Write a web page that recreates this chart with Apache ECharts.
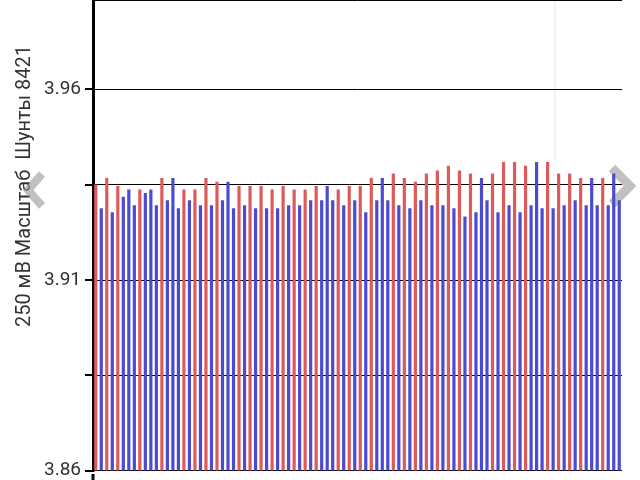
<!DOCTYPE html>
<html><head><meta charset="utf-8">
<script src="https://cdn.jsdelivr.net/npm/echarts@6/dist/echarts.min.js"></script>
<style>html,body{margin:0;padding:0;background:#fff}#c{width:640px;height:480px}</style>
</head><body><div id="c"></div>
<script>
const values = [3.935,3.9288,3.9367,3.9277,3.9346,3.9318,3.9337,3.9296,3.9337,3.9328,3.9337,3.9296,3.9367,3.9309,3.9367,3.9288,
3.9337,3.9309,3.9337,3.9296,3.9367,3.9296,3.9357,3.9309,3.9357,3.9288,3.9346,3.9296,3.9346,3.9288,3.9346,3.9288,
3.9337,3.9288,3.9346,3.9296,3.9337,3.9296,3.9337,3.9309,3.9346,3.9309,3.9346,3.9309,3.9337,3.9296,3.9346,3.9309,
3.9346,3.9277,3.9367,3.9309,3.9367,3.9309,3.9379,3.9296,3.9367,3.9288,3.9357,3.9309,3.9379,3.9296,3.9387,3.9296,
3.9399,3.9288,3.9387,3.9266,3.9379,3.9277,3.9367,3.9309,3.9379,3.9277,3.9409,3.9296,3.9409,3.9277,3.9399,3.9296,
3.9409,3.9288,3.9409,3.9288,3.9379,3.9296,3.9379,3.9309,3.9367,3.9296,3.9367,3.9296,3.9367,3.9296,3.9379,3.9309];
const colorsCode = "RBRBRBBBRBBBRBBBRBRBRBRBBBRBRBRBRBRBRBRBRBBBRBRBRBRBBBRBRBRBRBRBRBRBRBBBRBRBRBRBBBRBRBRBRBBBRB";
const categories = values.map((v,i)=>String(i+1));
const yLabels = ['3.86','3.91','3.96'];
const RED='#dd5a5a', BLUE='#4b4bd2';
const chart = echarts.init(document.getElementById('c'));
chart.setOption({
  animation:false,
  grid:{left:93,right:18,top:0,bottom:6},
  xAxis:{type:'category',data:categories,axisLine:{show:false},axisTick:{show:false},axisLabel:{show:false}},
  yAxis:{type:'value',min:3.86,max:3.9834,interval:0.025,
    axisLine:{show:true,lineStyle:{color:'#000',width:3}},
    axisTick:{show:true,length:8,lineStyle:{color:'#000',width:2}},
    axisLabel:{fontSize:19,color:'#333',fontFamily:'Roboto',margin:12,showMaxLabel:false,
      formatter:v=>{const s=v.toFixed(2);return yLabels.includes(s)&&Math.abs(v-parseFloat(s))<1e-6?s:'';}},
    splitLine:{lineStyle:{color:'#000',width:1}}},
  series:[{type:'bar',barCategoryGap:'42%',
    data:values.map((v,i)=>({value:v,itemStyle:{color:colorsCode[i]==='R'?RED:BLUE}}))}],
  graphic:[
    {type:'line',shape:{x1:555,y1:0,x2:555,y2:160},style:{stroke:'#e4e4e4',lineWidth:1},z:-1},
    {type:'line',shape:{x1:93,y1:474,x2:93,y2:480},style:{stroke:'#000',lineWidth:3}},
    {type:'text',x:25,y:186,rotation:Math.PI/2,style:{text:'250 мВ Масштаб  Шунты 8421',fontSize:20,fill:'#333',fontFamily:'Roboto',align:'center',verticalAlign:'middle'}},
    {type:'polyline',shape:{points:[[612,168],[630,186],[612,204]]},style:{stroke:'rgba(150,150,150,0.6)',lineWidth:9,fill:null}},
    {type:'polyline',shape:{points:[[42,174],[28,190],[42,206]]},style:{stroke:'rgba(150,150,150,0.6)',lineWidth:8,fill:null}}
  ]
});
</script></body></html>
